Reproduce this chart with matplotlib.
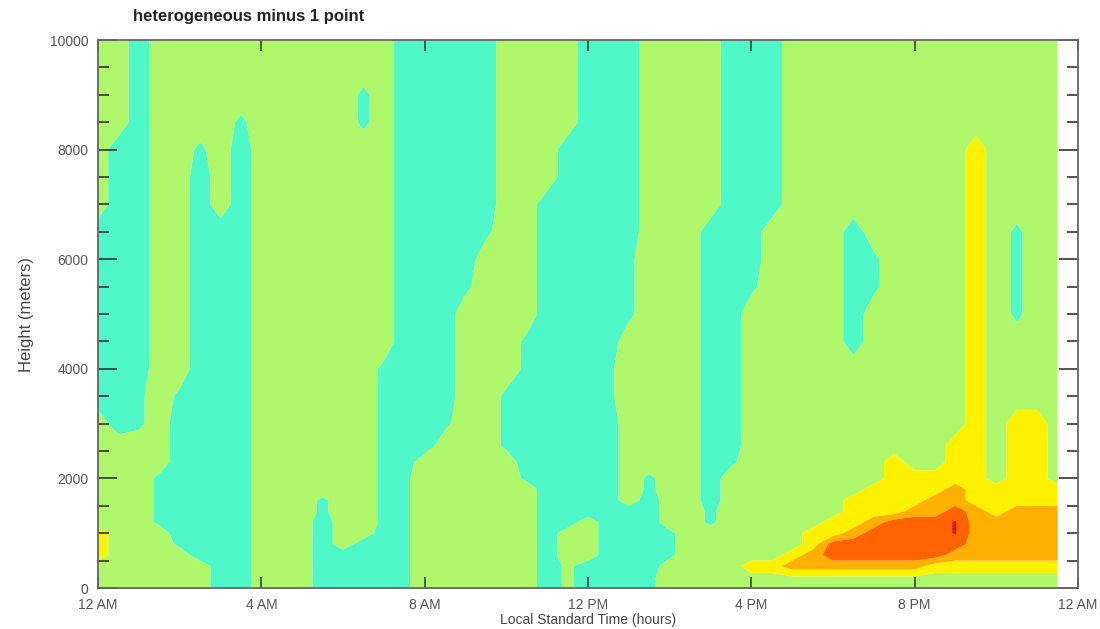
import numpy as np
import matplotlib
matplotlib.use("Agg")
import matplotlib.pyplot as plt

# time of day (hours) of each grid column
hours = [0, 0.5, 1, 1.5, 2, 2.5, 3, 3.5, 4, 4.5, 5, 5.5, 6, 6.5, 7, 7.5,
         8, 8.5, 9, 9.5, 10, 10.5, 11, 11.5, 12, 12.5, 13, 13.5, 14, 14.5, 15, 15.5,
         16, 16.5, 17, 17.5, 18, 18.5, 19, 19.5, 20, 20.5, 21, 21.5, 22, 22.5, 23, 23.5]

# height (m) of each grid row, top to bottom
heights = [10000, 9500, 9000, 8500, 8000, 7500, 7000, 6500, 6000, 5500, 5000, 4500,
           4000, 3500, 3000, 2600, 2300, 2000, 1800, 1600, 1400, 1200, 1000, 800,
           600, 400, 150, 0]

# difference class (8 columns per block)
# C/c = below -0.5 (cyan), G/g = near zero (green), Y/O/R/x = growing positive
rows = [
    "GGCGGGGG GGGGGGGC CCCCGGGG CCCGGGGC CCGGGGGG GGGGGGGG",
    "GGCGGGGG GGGGGGGC CCCCGGGG CCCGGGGC CCGGGGGG GGGGGGGG",
    "GGCGGGGG GGGGGcGC CCCCGGGG CCCGGGGC CCGGGGGG GGGGGGGG",
    "GGCGGGGc GGGGGcGC CCCCGGGG CCCGGGGC CCGGGGGG GGGGGGGG",
    "GCCGGcGC GGGGGGGC CCCCGGGC CCCGGGGC CCGGGGGG GGGYGGGG",
    "GCCGGCGC GGGGGGGC CCCCGGGC CCCGGGGC CCGGGGGG GGGYGGGG",
    "GCCGGCGC GGGGGGGC CCCCGGCC CCCGGGGC CCGGGGGG GGGYGGGG",
    "CCCGGCCC GGGGGGGC CCCcGGCC CCCGGGCC CGGGGCGG GGGYGcGG",
    "CCCGGCCC GGGGGGGC CCCGGGCC CCcGGGCC CGGGGCcG GGGYGcGG",
    "CCCGGCCC GGGGGGGC CCcGGGCC CCcGGGCC cGGGGCcG GGGYGcGG",
    "CCCGGCCC GGGGGGGC CCGGGGCC CCcGGGCC GGGGGCGG GGGYGcGG",
    "CCCGGCCC GGGGGGGC CCGGGcCC CCGGGGCC GGGGGCGG GGGYGGGG",
    "CCCGGCCC GGGGGGcC CCGGGcCC CcGGGGCC GGGGGGGG GGGYGGGG",
    "CCcGcCCC GGGGGGcC CCGGcCCC CcGGGGCC GGGGGGGG GGGYGGGG",
    "GCcGCCCC GGGGGGcC CcGGcCCC CCGGGGCC GGGGGGGG GGGYGYYG",
    "GGGGCCCC GGGGGGcC CGGGcCCC CCGGGGCC GGGGGGGG GGYYGYYG",
    "GGGGCCCC GGGGGGcC GGGGGCCC CCGGGGCc GGGGGGGY GGYYGYYG",
    "GGGcCCCC GGGGGGcc GGGGGcCC CCGcGGCG GGGGGGGY YYYYGYYG",
    "GGGcCCCC GGGGGGcc GGGGGGCC CCGcGGCG GGGGGGYY YYOYYYYY",
    "GGGcCCCC GGGcGGcc GGGGGGCC CCGCGGCG GGGGGYYY YOOYYYYY",
    "GGGcCCCC GGGcGGcc GGGGGGCC CCCCGGcG GGGGGYYY OOROYOOO",
    "GGGcCCCC GGGCGGcc GGGGGGCC GCCCGGcG GGGGYYOR RRxOOOOO",
    "YGGGCCCC GGGCGGCc GGGGGGCG GCCCcGGG GGGYYORR RRxOOOOO",
    "YGGGcCCC GGGCGCCc GGGGGGCG GCCCcGGG GGGYRRRR RRROOOOO",
    "YGGGGCCC GGGCCCCc GGGGGGCG GCCCcGGG GGYORRRR RROOOOOO",
    "GGGGGGCC GGGCCCCc GGGGGGCg CCCCGGGG YYOOOOOO OYYYYYYY",
    "GGGGGGCC GGGCCCCc GGGGGGCg CCCcGGGG GGGGGGGG GGGGGGGG",
    "GGGGGGCC GGGCCCCc GGGGGGCg CCCcGGGG GGGGGGGG GGGGGGGG",
]
class_value = {"C": 0.0, "c": 0.3, "g": 0.7, "G": 1.0,
               "Y": 2.0, "O": 3.0, "R": 4.0, "x": 4.6}

levels = [-0.5, 0.5, 1.5, 2.5, 3.5, 4.5, 5.5]
fill_colors = ["#4ff8c8", "#b0f86b", "#fff200", "#ffb000", "#ff6400", "#e81a00"]

x_ticks = [0, 4, 8, 12, 16, 20, 24]
x_labels = ["12 AM", "4 AM", "8 AM", "12 PM", "4 PM", "8 PM", "12 AM"]

z = np.array([[class_value[ch] for ch in r.replace(" ", "")] for r in rows])

plt.rcParams["font.family"] = ["Liberation Sans", "DejaVu Sans"]

fig = plt.figure(figsize=(11, 6.29), dpi=100)
ax = fig.add_axes([98 / 1100, 1 - 588 / 629, 980 / 1100, 548 / 629])

ax.contourf(hours, heights, z, levels=levels, colors=fill_colors, antialiased=True)

ax.set_xlim(0, 24)
ax.set_ylim(0, 10000)
ax.set_xticks(x_ticks)
ax.set_xticklabels(x_labels)
ax.set_yticks([0, 2000, 4000, 6000, 8000, 10000])
ax.set_yticks(np.arange(0, 10001, 500), minor=True)

ax.tick_params(axis="x", which="major", direction="in", length=8, width=1.2,
               top=True, bottom=True, color="#2a4a2a", labelsize=10,
               labelcolor="#555555", pad=7)
ax.tick_params(axis="x", which="minor", bottom=False, top=False)
ax.tick_params(axis="y", which="major", direction="in", length=14, width=1.2,
               left=True, right=True, color="#333333", labelsize=10,
               labelcolor="#555555", pad=7)
ax.tick_params(axis="y", which="minor", direction="in", length=8, width=1.2,
               left=True, right=True, color="#333333")

for s in ax.spines.values():
    s.set_color("#666666")
    s.set_linewidth(1.3)

fig.text(133 / 1100, 1 - 17 / 629, "heterogeneous minus 1 point", fontsize=12,
         fontweight="bold", color="#222222", ha="left", va="center")
ax.set_xlabel("Local Standard Time (hours)", fontsize=10, color="#444444", labelpad=1)
ax.set_ylabel("Height (meters)", fontsize=12, color="#444444", labelpad=11)

fig.savefig("out.png", dpi=100)
